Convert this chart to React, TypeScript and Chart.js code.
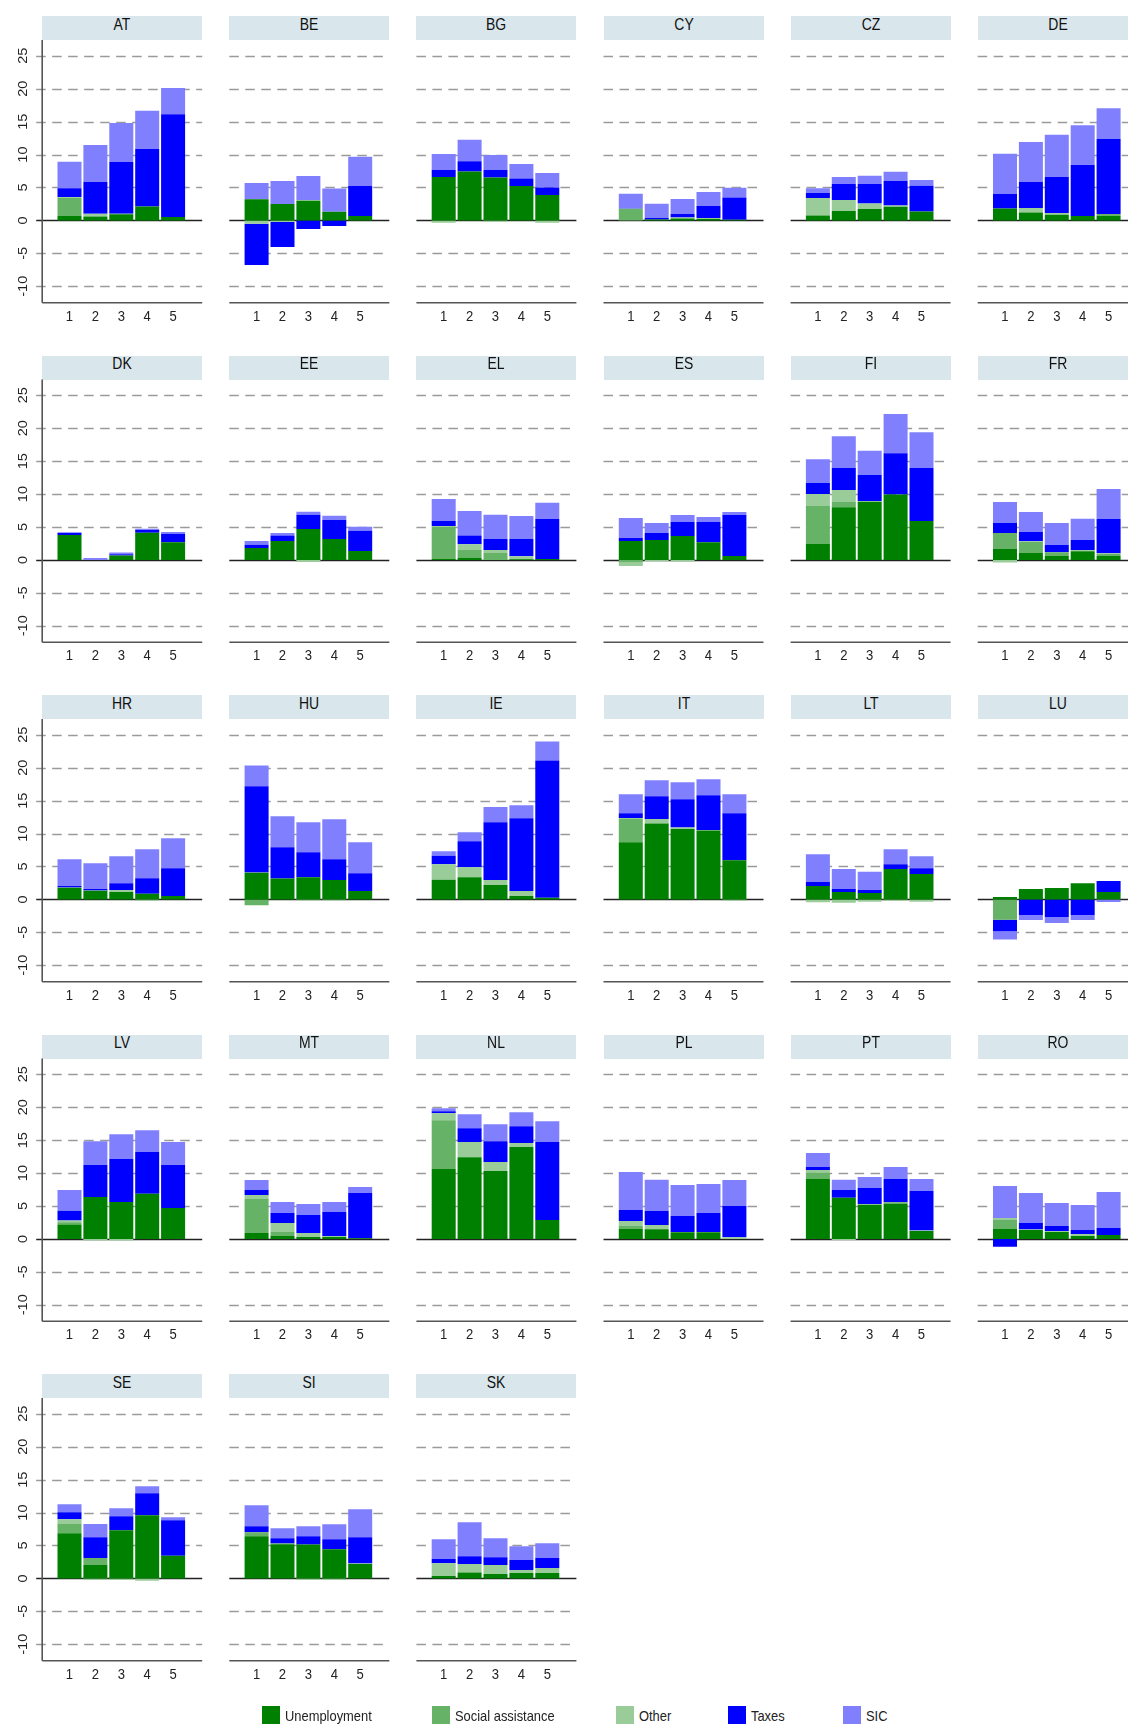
import React, { useEffect, useRef } from 'react';
import { Chart, registerables } from 'chart.js';

Chart.register(...registerables);

// ---------------- data ----------------
const countries = [
  'AT', 'BE', 'BG', 'CY', 'CZ', 'DE',
  'DK', 'EE', 'EL', 'ES', 'FI', 'FR',
  'HR', 'HU', 'IE', 'IT', 'LT', 'LU',
  'LV', 'MT', 'NL', 'PL', 'PT', 'RO',
  'SE', 'SI', 'SK',
];
const quintiles = [1, 2, 3, 4, 5];
const quintileLabels = ['1', '2', '3', '4', '5'];
const yTickValues = [-10, -5, 0, 5, 10, 15, 20, 25];
const seriesLabels = ['Unemployment', 'Social assistance', 'Other', 'Taxes', 'SIC'];
const seriesColors = ['#008000', '#66b266', '#99cc99', '#0000ff', '#8080ff'];

// rows follow the order of `countries`, columns are quintiles 1..5
const unemployment = [
  [0.65, 0.55, 0.95, 2.1, 0.5],
  [3.2, 2.48, 3.0, 1.3, 0.65],
  [6.58, 7.44, 6.53, 5.21, 3.85],
  [0, 0.15, 0.3, 0.2, 0.1],
  [0.76, 1.42, 1.72, 2.07, 1.37],
  [1.82, 1.21, 0.86, 0.66, 0.7],
  [3.8, 0, 0.66, 4.14, 2.68],
  [1.82, 2.88, 4.7, 3.18, 1.36],
  [0.15, 0.3, 0, 0.1, 0.15],
  [2.88, 3.03, 3.64, 2.68, 0.61],
  [2.42, 7.98, 8.84, 9.95, 5.91],
  [1.67, 1.06, 0.61, 1.31, 0.61],
  [1.77, 1.31, 1.11, 0.86, 0.5],
  [4.04, 3.18, 3.38, 2.93, 1.26],
  [2.98, 3.38, 2.17, 0.5, 0.25],
  [8.69, 11.52, 10.71, 10.45, 5.96],
  [2.02, 1.11, 0.96, 4.6, 3.84],
  [0.35, 1.57, 1.72, 2.47, 1.11],
  [2.17, 6.36, 5.61, 6.87, 4.7],
  [0.91, 0.45, 0.3, 0.3, 0.1],
  [10.61, 12.42, 10.3, 13.94, 2.88],
  [1.52, 1.46, 1.01, 1.01, 0],
  [9.09, 6.26, 5.2, 5.35, 1.21],
  [1.52, 1.36, 1.06, 0.45, 0.61],
  [6.87, 2.02, 7.32, 9.6, 3.43],
  [6.41, 5.2, 5.15, 4.44, 2.17],
  [0.35, 0.91, 0.66, 0.81, 0.81],
];

const socialAssistance = [
  [2.8, 0.15, 0, 0, 0],
  [0, 0, 0, 0, 0],
  [0, 0, 0, 0, 0],
  [1.77, 0, 0, 0, 0],
  [0, 0, 0, 0, 0],
  [0, 0, 0, 0, 0.26],
  [0, 0, 0, 0, 0],
  [0, 0, 0, 0, 0],
  [4.9, 1.22, 1.06, 0.1, 0],
  [-0.4, 0, 0, 0, 0],
  [5.76, 0.81, 0, 0, 0],
  [2.42, 1.67, 0.55, 0, 0.3],
  [0, 0, 0, 0, 0],
  [-0.9, 0, 0, 0, 0],
  [0, 0, 0, 0, 0],
  [3.53, 0, 0, 0, 0],
  [0, 0, 0, 0, 0],
  [-3.1, 0, 0, 0, 0],
  [0.36, 0, 0, 0, 0],
  [5.15, 0.61, 0, 0, 0],
  [7.42, 0, 0, 0, 0],
  [0.45, 0, 0, 0, 0],
  [1.01, 0, 0, 0.2, 0],
  [1.36, 0, 0, 0, 0],
  [1.41, 1.06, 0, 0, 0],
  [0.61, 0.1, 0, 0, 0],
  [0, 0, 0, 0, 0],
];

const other = [
  [0.1, 0.3, 0.05, 0, 0],
  [-0.5, -0.25, 0.09, 0, 0],
  [-0.35, 0, -0.2, 0, -0.35],
  [0, 0, 0.15, 0.15, 0],
  [2.63, 1.67, 0.86, 0.21, 0],
  [0, 0.66, 0.25, 0, 0],
  [0, 0, 0, 0, 0],
  [0, 0, -0.3, 0, 0],
  [0.1, 0.85, 0.46, 0.36, 0],
  [-0.51, -0.2, -0.25, 0, 0],
  [1.82, 1.82, 0.1, 0, 0],
  [-0.4, 0.1, 0, 0.21, 0.1],
  [0.05, 0.05, 0.3, -0.2, 0],
  [0.05, 0, -0.15, -0.15, 0],
  [2.37, 1.52, 0.76, 0.76, 0],
  [0.15, 0.7, 0.2, 0.1, -0.2],
  [-0.45, -0.5, -0.35, -0.2, -0.35],
  [0, 0, 0, 0, 0],
  [0.25, -0.25, -0.25, 0, 0],
  [0.61, 1.36, 0.61, 0.15, 0],
  [1.06, 2.28, 1.37, 0.61, 0],
  [0.76, 0.66, 0.05, 0.05, 0.25],
  [0.35, -0.15, 0.1, 0, 0.05],
  [0.3, 0.05, 0.15, 0.31, 0],
  [0.71, -0.25, -0.25, -0.35, 0],
  [0, 0, -0.25, -0.25, 0.1],
  [1.97, 1.26, 1.36, 0.45, 0.76],
];

const taxes = [
  [1.35, 4.82, 7.86, 8.73, 15.64],
  [-6.28, -3.8, -1.3, -0.85, 4.56],
  [1.06, 1.56, 1.11, 1.17, 1.16],
  [0.05, 0.2, 0.51, 1.83, 3.39],
  [0.76, 2.43, 2.94, 3.69, 3.89],
  [2.18, 3.95, 5.47, 7.74, 11.39],
  [0.3, 0, 0.2, 0.41, 1.31],
  [0.5, 0.81, 2.17, 2.88, 3.08],
  [0.76, 1.32, 1.66, 2.62, 6.06],
  [0.45, 1.06, 2.12, 3.08, 6.21],
  [1.67, 3.33, 3.94, 6.26, 8.03],
  [1.52, 1.41, 1.11, 1.51, 5.2],
  [0.2, 0.21, 1.06, 2.37, 4.25],
  [13.08, 4.75, 3.79, 3.18, 2.73],
  [1.27, 3.94, 8.79, 11.06, 20.86],
  [0.71, 3.44, 4.29, 5.26, 7.12],
  [0.61, 0.46, 0.45, 0.75, 0.91],
  [-1.72, -2.37, -2.68, -2.37, 1.67],
  [1.51, 4.85, 6.51, 6.31, 6.51],
  [0.75, 1.52, 2.73, 3.64, 6.87],
  [0.3, 2.12, 3.18, 2.57, 11.82],
  [1.66, 2.12, 2.42, 2.88, 4.75],
  [0.46, 1.16, 2.43, 3.54, 6.01],
  [-1.21, 1.01, 0.76, 0.6, 1.06],
  [1.06, 3.18, 2.12, 3.33, 5.41],
  [0.91, 0.81, 1.26, 1.52, 3.99],
  [0.61, 1.21, 1.21, 1.52, 1.51],
];

const sic = [
  [4.0, 5.62, 5.92, 5.82, 3.96],
  [2.47, 3.49, 3.64, 3.56, 4.46],
  [2.43, 3.25, 2.28, 2.17, 2.18],
  [2.23, 2.18, 2.28, 2.12, 1.47],
  [0.75, 1.06, 1.26, 1.42, 0.86],
  [6.12, 6.07, 6.42, 6.07, 4.7],
  [0.1, 0.3, 0.25, 0.2, 0.25],
  [0.56, 0.4, 0.45, 0.66, 0.61],
  [3.33, 3.73, 3.69, 3.49, 2.48],
  [3.03, 1.52, 1.06, 0.76, 0.45],
  [3.63, 4.85, 3.69, 5.96, 5.45],
  [3.18, 3.03, 3.34, 3.23, 4.55],
  [4.09, 3.93, 4.1, 4.4, 4.54],
  [3.18, 4.7, 4.55, 6.06, 4.7],
  [0.7, 1.36, 2.32, 1.97, 2.88],
  [2.88, 2.42, 2.58, 2.42, 2.88],
  [4.24, 3.03, 2.78, 2.28, 1.82],
  [-1.26, -0.76, -0.91, -0.76, -0.4],
  [3.13, 3.64, 3.79, 3.34, 3.49],
  [1.52, 1.67, 1.66, 1.52, 0.91],
  [0.46, 2.12, 2.57, 2.12, 3.18],
  [5.76, 4.75, 4.7, 4.39, 3.94],
  [2.12, 1.57, 1.66, 1.82, 1.82],
  [4.85, 4.55, 3.48, 3.79, 5.45],
  [1.21, 2.02, 1.22, 1.06, 0.45],
  [3.18, 1.52, 1.52, 2.27, 4.24],
  [3.03, 5.16, 2.88, 2.12, 2.27],
];

// ---------------- layout / style ----------------
const FONT = '"Liberation Sans", Arial, Helvetica, sans-serif';
const SQUEEZE = 0.82;
const PLOT_W = 160;
const PLOT_H = 262.7;
const HEADER_H = 24;
const Y_MIN = -12.5;
const Y_MAX = 27.4;
const X_MIN = -0.054;
const X_MAX = 6.124;
const CANVAS_W = 230;
const CANVAS_H = 300;
const CANVAS_LEFT_ROOM = 48;
const colLeft = (c: number) => 42.2 + c * 187.1;
const rowTop = (r: number) => 16 + r * 339.5;

function makePanelPlugin(firstCol: boolean) {
  return {
    id: 'panelDecor',
    beforeDatasetsDraw(chart: any) {
      const { ctx, chartArea: a, scales } = chart;
      const y = scales.y;
      ctx.save();
      // dashed grid lines
      ctx.lineWidth = 1.3;
      ctx.strokeStyle = '#9a9a9a';
      ctx.setLineDash([9.5, 6.5]);
      for (const v of yTickValues) {
        if (v === 0) continue;
        const py = Math.round(y.getPixelForValue(v)) + 0.5;
        ctx.beginPath();
        ctx.moveTo(a.left - (firstCol ? 6 : 0), py);
        ctx.lineTo(a.right, py);
        ctx.stroke();
      }
      ctx.setLineDash([]);
      // zero line
      const p0 = Math.round(y.getPixelForValue(0)) + 0.5;
      ctx.strokeStyle = '#222222';
      ctx.lineWidth = 1.5;
      ctx.beginPath();
      ctx.moveTo(a.left - (firstCol ? 6 : 0), p0);
      ctx.lineTo(a.right, p0);
      ctx.stroke();
      // bottom axis line
      ctx.strokeStyle = '#555555';
      ctx.lineWidth = 1.6;
      ctx.beginPath();
      ctx.moveTo(a.left, a.bottom);
      ctx.lineTo(a.right, a.bottom);
      ctx.stroke();
      if (firstCol) {
        ctx.beginPath();
        ctx.moveTo(a.left, a.top);
        ctx.lineTo(a.left, a.bottom);
        ctx.stroke();
      }
      ctx.restore();
    },
    afterDraw(chart: any) {
      const { ctx, chartArea: a, scales } = chart;
      ctx.save();
      ctx.fillStyle = '#222222';
      ctx.font = `15px ${FONT}`;
      ctx.textAlign = 'center';
      ctx.textBaseline = 'alphabetic';
      quintiles.forEach((q, i) => {
        const px = scales.x.getPixelForValue(q);
        ctx.save();
        ctx.translate(px, a.bottom + 18);
        ctx.scale(SQUEEZE + 0.05, 1);
        ctx.fillText(quintileLabels[i], 0, 0);
        ctx.restore();
      });
      if (firstCol) {
        ctx.font = `14.5px ${FONT}`;
        for (const v of yTickValues) {
          const py = scales.y.getPixelForValue(v);
          ctx.save();
          ctx.translate(a.left - 15.5, py);
          ctx.scale(SQUEEZE, 1);
          ctx.rotate(-Math.PI / 2);
          ctx.fillText(String(v), 0, 0);
          ctx.restore();
        }
      }
      ctx.restore();
    },
  };
}

function Panel({ index }: { index: number }) {
  const ref = useRef<HTMLCanvasElement | null>(null);
  const col = index % 6;
  const row = Math.floor(index / 6);
  const L = colLeft(col);
  const T = rowTop(row);
  const CL = Math.floor(L) - CANVAS_LEFT_ROOM;
  const CT = Math.floor(T + HEADER_H);
  const padLeft = L - CL;
  const padTop = T + HEADER_H - CT;

  useEffect(() => {
    if (!ref.current) return;
    const series = [unemployment, socialAssistance, other, taxes, sic];
    const chart = new Chart(ref.current, {
      type: 'bar',
      data: {
        datasets: series.map((s, k) => ({
          label: seriesLabels[k],
          data: quintiles.map((q, j) => ({ x: q, y: s[index][j] })),
          backgroundColor: seriesColors[k],
          borderWidth: 0,
          barPercentage: 0.927,
          categoryPercentage: 1,
          stack: 's',
        })),
      },
      options: {
        responsive: false,
        animation: false,
        events: [],
        layout: {
          padding: {
            left: padLeft,
            top: padTop,
            right: CANVAS_W - padLeft - PLOT_W,
            bottom: CANVAS_H - padTop - PLOT_H,
          },
        },
        plugins: {
          legend: { display: false },
          tooltip: { enabled: false },
          title: { display: false },
        },
        scales: {
          x: { type: 'linear', display: false, min: X_MIN, max: X_MAX, offset: false, stacked: true },
          y: { type: 'linear', display: false, min: Y_MIN, max: Y_MAX, stacked: true },
        },
      } as any,
      plugins: [makePanelPlugin(col === 0)],
    });
    return () => chart.destroy();
  }, [index]);

  return (
    <>
      <div
        style={{
          position: 'absolute',
          left: L,
          top: T,
          width: PLOT_W,
          height: HEADER_H,
          background: '#d9e6ec',
          overflow: 'hidden',
        }}
      >
        <span
          style={{
            position: 'absolute',
            left: 0,
            right: 0,
            top: -0.5,
            textAlign: 'center',
            fontFamily: FONT,
            fontSize: 17,
            lineHeight: '17px',
            color: '#111111',
            transform: `scaleX(${SQUEEZE})`,
          }}
        >
          {countries[index]}
        </span>
      </div>
      <canvas
        ref={ref}
        width={CANVAS_W}
        height={CANVAS_H}
        style={{ position: 'absolute', left: CL, top: CT, width: CANVAS_W, height: CANVAS_H }}
      />
    </>
  );
}

const legendBoxX = [262, 432, 616, 728, 843];

export default function App() {
  return (
    <div
      style={{
        position: 'fixed',
        left: 0,
        top: 0,
        width: 1128,
        height: 1726,
        overflow: 'hidden',
        background: '#ffffff',
      }}
    >
      {countries.map((c, i) => (
        <Panel key={c} index={i} />
      ))}
      {seriesLabels.map((lab, k) => (
        <React.Fragment key={lab}>
          <div
            style={{
              position: 'absolute',
              left: legendBoxX[k],
              top: 1706,
              width: 18,
              height: 18,
              background: seriesColors[k],
            }}
          />
          <span
            style={{
              position: 'absolute',
              left: legendBoxX[k] + 23,
              top: 1708.3,
              fontFamily: FONT,
              fontSize: 15,
              lineHeight: '15px',
              color: '#222222',
              whiteSpace: 'nowrap',
              transformOrigin: 'left center',
              transform: 'scaleX(0.86)',
            }}
          >
            {lab}
          </span>
        </React.Fragment>
      ))}
    </div>
  );
}
